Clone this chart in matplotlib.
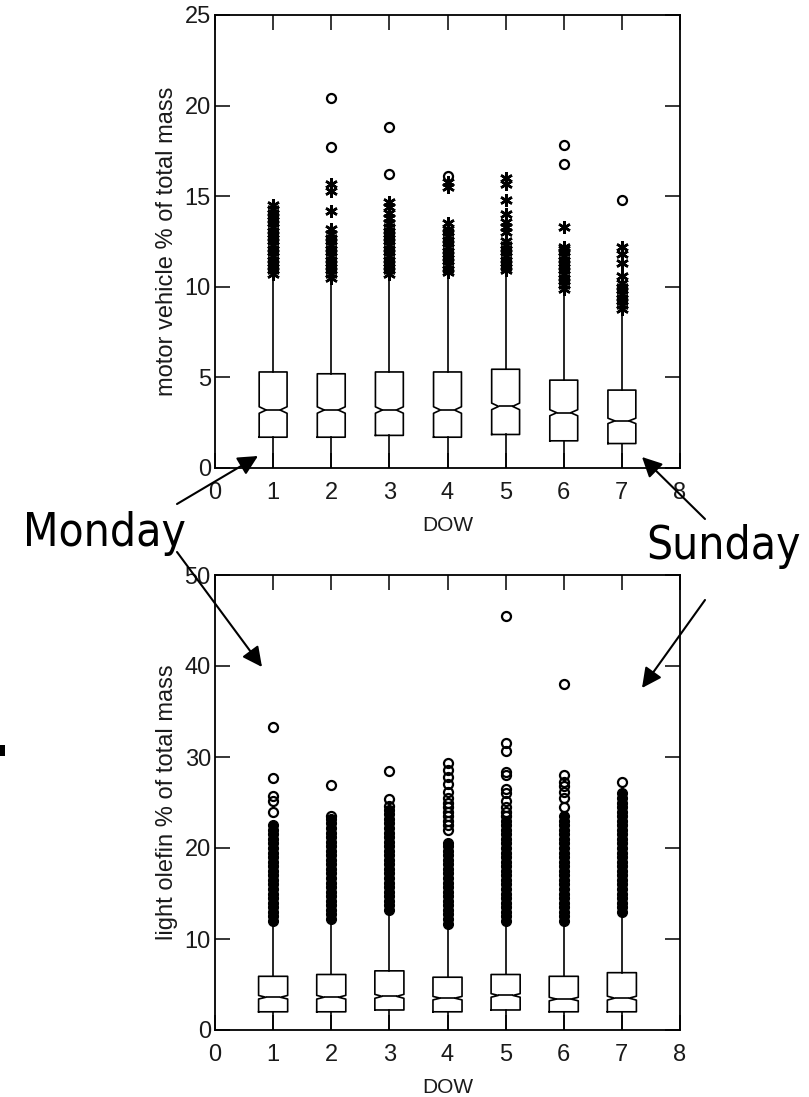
import numpy as np
import matplotlib
matplotlib.use("Agg")
import matplotlib.pyplot as plt
from matplotlib.patches import FancyArrowPatch, Rectangle

# day of week positions
dow = [1, 2, 3, 4, 5, 6, 7]

# motor vehicle % of total mass (top panel)
mv_q1 = [1.7, 1.7, 1.8, 1.7, 1.85, 1.5, 1.35]
mv_med = [3.2, 3.2, 3.2, 3.2, 3.4, 3.05, 2.6]
mv_q3 = [5.3, 5.2, 5.3, 5.3, 5.45, 4.85, 4.3]
mv_lo = [0.0, 0.0, 0.0, 0.0, 0.0, 0.0, 0.0]
mv_hi = [10.6, 10.4, 10.6, 10.7, 10.8, 9.8, 8.7]
mv_stars = [
    [10.7, 10.9, 11.1, 11.3, 11.5, 11.7, 11.9, 12.1, 12.3, 12.5, 12.7, 12.9, 13.1, 13.3, 13.5, 13.7, 13.9, 14.1, 14.3, 14.5],
    [10.5, 10.7, 10.9, 11.1, 11.3, 11.5, 11.7, 11.9, 12.1, 12.3, 12.5, 12.7, 12.9, 13.2, 14.2, 15.3, 15.7],
    [10.7, 10.9, 11.1, 11.3, 11.5, 11.7, 11.9, 12.1, 12.3, 12.5, 12.7, 12.9, 13.1, 13.3, 13.5, 13.8, 14.1, 14.4, 14.7],
    [10.8, 11.0, 11.2, 11.4, 11.6, 11.8, 12.0, 12.2, 12.4, 12.6, 12.8, 13.0, 13.2, 13.5, 15.5, 15.8],
    [10.9, 11.1, 11.3, 11.5, 11.7, 11.9, 12.1, 12.3, 12.5, 13.0, 13.3, 13.6, 14.0, 14.8, 15.7, 16.0],
    [9.9, 10.1, 10.3, 10.5, 10.7, 10.9, 11.1, 11.3, 11.5, 11.7, 11.9, 12.1, 12.2, 13.3],
    [8.8, 9.0, 9.2, 9.4, 9.6, 9.8, 10.0, 10.2, 10.6, 11.3, 11.8, 12.2],
]
mv_circles = [[], [17.7, 20.4], [16.2, 18.8], [16.1], [], [16.8, 17.8], [14.8]]

# light olefin % of total mass (bottom panel)
lo_q1 = [2.0, 2.0, 2.2, 2.0, 2.2, 2.0, 2.0]
lo_med = [3.6, 3.6, 3.7, 3.5, 3.8, 3.4, 3.5]
lo_q3 = [5.9, 6.1, 6.5, 5.8, 6.1, 5.9, 6.3]
lo_lo = [0.0, 0.0, 0.0, 0.0, 0.0, 0.0, 0.0]
lo_hi = [11.8, 12.0, 13.0, 11.5, 11.8, 11.8, 12.8]
lo_dense = [
    [12.0, 12.5, 13.0, 13.5, 14.0, 14.5, 15.0, 15.5, 16.0, 16.5, 17.0, 17.5, 18.0, 18.5, 19.0, 19.5, 20.0, 20.5, 21.0, 21.5, 22.0, 22.5],
    [12.2, 12.7, 13.2, 13.7, 14.2, 14.7, 15.2, 15.7, 16.2, 16.7, 17.2, 17.7, 18.2, 18.7, 19.2, 19.7, 20.2, 20.7, 21.2, 21.7, 22.2, 22.7, 23.2],
    [13.2, 13.7, 14.2, 14.7, 15.2, 15.7, 16.2, 16.7, 17.2, 17.7, 18.2, 18.7, 19.2, 19.7, 20.2, 20.7, 21.2, 21.7, 22.2, 22.7, 23.2, 23.7, 24.2],
    [11.7, 12.2, 12.7, 13.2, 13.7, 14.2, 14.7, 15.2, 15.7, 16.2, 16.7, 17.2, 17.7, 18.2, 18.7, 19.2, 19.7, 20.2, 20.5],
    [12.0, 12.5, 13.0, 13.5, 14.0, 14.5, 15.0, 15.5, 16.0, 16.5, 17.0, 17.5, 18.0, 18.5, 19.0, 19.5, 20.0, 20.5, 21.0, 21.5, 22.0, 22.5, 23.0],
    [12.0, 12.5, 13.0, 13.5, 14.0, 14.5, 15.0, 15.5, 16.0, 16.5, 17.0, 17.5, 18.0, 18.5, 19.0, 19.5, 20.0, 20.5, 21.0, 21.5, 22.0, 22.5, 23.0, 23.5],
    [13.0, 13.5, 14.0, 14.5, 15.0, 15.5, 16.0, 16.5, 17.0, 17.5, 18.0, 18.5, 19.0, 19.5, 20.0, 20.5, 21.0, 21.5, 22.0, 22.5, 23.0, 23.5, 24.0, 24.5, 25.0, 25.5, 26.0],
]
lo_circles = [
    [24.0, 25.2, 25.7, 27.7, 33.3],
    [23.5, 26.9],
    [24.6, 25.4, 28.5],
    [22.0, 22.5, 23.0, 23.5, 24.0, 24.5, 25.0, 25.5, 26.2, 27.0, 27.8, 28.6, 29.3],
    [23.5, 24.0, 24.5, 25.2, 26.0, 26.5, 28.0, 28.4, 30.7, 31.5, 45.5],
    [24.5, 25.5, 26.2, 26.8, 27.3, 28.0, 38.0],
    [27.2],
]

x_ticks = [0, 1, 2, 3, 4, 5, 6, 7, 8]

tick_font = ["Liberation Sans", "DejaVu Sans"]
big_font = ["DejaVu Sans"]
ink = "#1a1a1a"

W, H = 809, 1097
fig = plt.figure(figsize=(W / 100, H / 100), dpi=100)


def make_stats(q1, med, q3, lo, hi, fl):
    stats = []
    for i in range(len(q1)):
        half = 0.05 * (q3[i] - q1[i])
        stats.append(dict(q1=q1[i], med=med[i], q3=q3[i], whislo=lo[i], whishi=hi[i],
                          cilo=med[i] - half, cihi=med[i] + half, fliers=fl[i]))
    return stats


def style_axes(ax, ymax, ystep, ylabel):
    ax.set_xlim(0, 8)
    ax.set_ylim(0, ymax)
    ax.set_xticks(x_ticks)
    ax.set_xticklabels([str(v) for v in x_ticks])
    ax.set_yticks(np.arange(0, ymax + 1, ystep))
    ax.tick_params(direction="in", length=10.5, width=1.1, top=True, right=True,
                   labelsize=17, labelcolor=ink)
    ax.tick_params(axis="x", pad=10)
    ax.tick_params(axis="y", pad=3)
    for lab in ax.get_xticklabels() + ax.get_yticklabels():
        lab.set_family(tick_font)
    for sp in ax.spines.values():
        sp.set_linewidth(1.3)
    ax.set_xlabel("DOW", family=tick_font, fontsize=15, color=ink, labelpad=9)
    ax.set_ylabel(ylabel, family=tick_font, fontsize=17, color=ink)
    ax.yaxis.set_label_coords(-0.079, 0.5)


box_props = dict(color="black", linewidth=1.2)

# top panel
ax1 = fig.add_axes([215 / W, 1 - 468 / H, 465 / W, 453 / H])
ax1.bxp(make_stats(mv_q1, mv_med, mv_q3, mv_lo, mv_hi, mv_stars), positions=dow,
        widths=0.48, capwidths=0.34, shownotches=True, showcaps=False, manage_ticks=False,
        boxprops=box_props, whiskerprops=box_props, medianprops=box_props,
        flierprops=dict(marker=(6, 2, 0), markersize=9, markeredgecolor="black",
                        markeredgewidth=1.8, linestyle="none"))
for d, vals in zip(dow, mv_circles):
    ax1.plot([d] * len(vals), vals, "o", ms=6.5, mfc="none", mec="black", mew=1.6)
style_axes(ax1, 25, 5, "motor vehicle % of total mass")

# bottom panel
ax2 = fig.add_axes([215 / W, 1 - 1030 / H, 465 / W, 455 / H])
ax2.bxp(make_stats(lo_q1, lo_med, lo_q3, lo_lo, lo_hi, lo_dense), positions=dow,
        widths=0.5, capwidths=0.36, shownotches=True, showcaps=False, manage_ticks=False,
        boxprops=box_props, whiskerprops=box_props, medianprops=box_props,
        flierprops=dict(marker="o", markersize=7, markerfacecolor="black",
                        markeredgecolor="black", linestyle="none"))
for d, vals in zip(dow, lo_circles):
    ax2.plot([d] * len(vals), vals, "o", ms=6.5, mfc="none", mec="black", mew=1.6)
style_axes(ax2, 50, 10, "light olefin % of total mass")


# annotations, positions in figure pixels measured from the top
def fp(x, y):
    return (x, H - y)


arrow = dict(arrowstyle="-|>", color="black", lw=1.5, mutation_scale=30, shrinkA=0, shrinkB=0)

fig.text(23 / W, 1 - 546 / H, "Monday", family=big_font, fontsize=33, stretch="condensed",
         ha="left", va="baseline")
fig.text(646 / W, 1 - 559 / H, "Sunday", family=big_font, fontsize=33, stretch="condensed",
         ha="left", va="baseline")
for tail, tip in [((177, 504), (258, 456)), ((177, 552), (262, 667)),
                  ((705, 519), (642, 457)), ((705, 600), (642, 688))]:
    fig.add_artist(FancyArrowPatch(fp(*tail), fp(*tip), transform=None, **arrow))

# small dark mark on the left edge
fig.add_artist(Rectangle(fp(0, 756), 5, 11, transform=None, facecolor="black", edgecolor="none"))

fig.savefig("out.png", dpi=100)
